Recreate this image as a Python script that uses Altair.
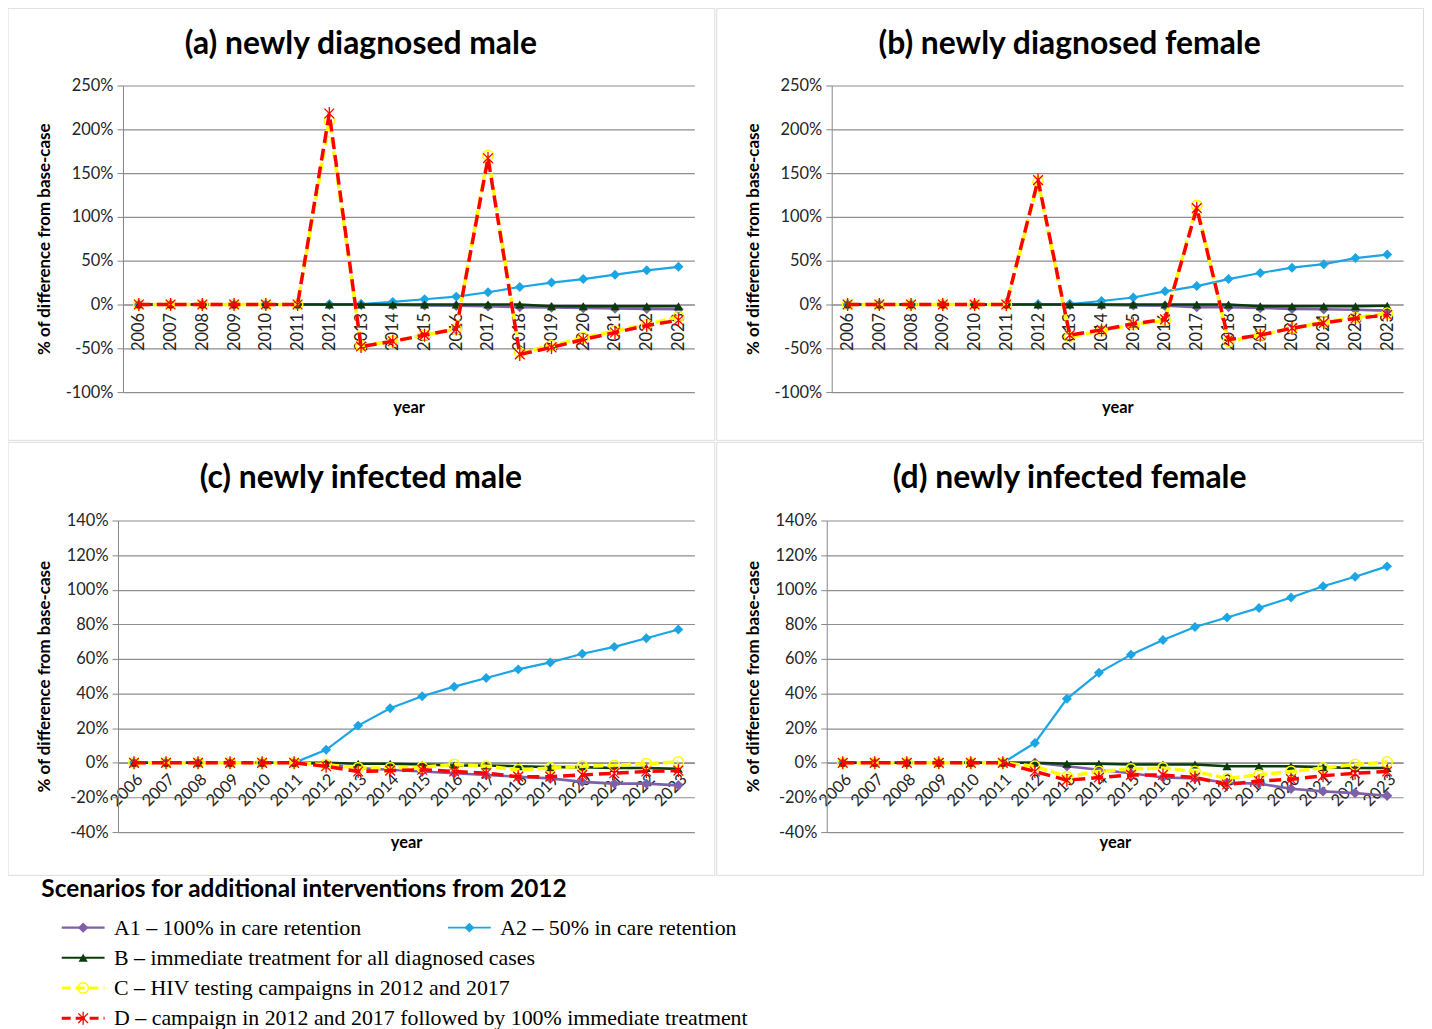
import altair as alt
import pandas as pd

# ---------------- data ----------------
years = list(range(2006, 2024))

scenario_keys = ["A1", "A2", "B", "C", "D"]
scenario_labels = [
    "A1 – 100% in care retention",
    "A2 – 50% in care retention",
    "B – immediate treatment for all diagnosed cases",
    "C – HIV testing campaigns in 2012 and 2017",
    "D – campaign in 2012 and 2017 followed by 100% immediate treatment",
]
legend_title = "Scenarios for additional interventions from 2012"

panel_titles = [
    "(a) newly diagnosed male",
    "(b) newly diagnosed female",
    "(c) newly infected male",
    "(d) newly infected female",
]

# (a) newly diagnosed male (% difference from base-case)
a_A1 = [0, 0, 0, 0, 0, 0, 0, 0, -0.5, -1, -1.5, -2, -3, -3.5, -4, -4.5, -5, -5.5]
a_A2 = [0, 0, 0, 0, 0, 0, 0, 0.5, 3, 6, 9, 14, 20, 25, 29, 34, 39, 43]
a_B = [0, 0, 0, 0, 0, 0, 0, 0, 0, 0, 0, 0, 0, -2, -2, -2, -2, -2]
a_C = [0, 0, 0, 0, 0, 0, 210, -47, -42, -35, -28, 170, -55, -47, -38, -30, -23, -14]
a_D = [0, 0, 0, 0, 0, 0, 218, -48, -42, -35, -28, 167, -57, -49, -40, -32, -24, -18]

# (b) newly diagnosed female
b_A1 = [0, 0, 0, 0, 0, 0, 0, 0, -0.5, -1, -1.5, -3, -3, -4, -5, -5.5, -6, -7]
b_A2 = [0, 0, 0, 0, 0, 0, 0, 0.5, 4, 8, 15, 21, 29, 36, 42, 46, 53, 57]
b_B = [0, 0, 0, 0, 0, 0, 0, 0, 0, 0, 0, 0, 0, -2, -2, -2, -2, -1.5]
b_C = [0, 0, 0, 0, 0, 0, 140, -37, -30, -23, -18, 113, -42, -35, -27, -20, -15, -10]
b_D = [0, 0, 0, 0, 0, 0, 142, -35, -29, -22, -17, 110, -40, -35, -27, -21, -16, -12]

# (c) newly infected male
c_A1 = [0, 0, 0, 0, 0, 0, -1, -3, -4, -5, -6, -7, -8, -9, -11, -12, -12, -13]
c_A2 = [0, 0, 0, 0, 0, 0, 7.5, 21.5, 31.5, 38.5, 44, 49, 54, 58, 63, 67, 72, 77]
c_B = [0, 0, 0, 0, 0, 0, 0, -0.5, -0.5, -1, -1.5, -1.5, -2, -2.5, -2.5, -3, -3, -3.5]
c_C = [0, 0, 0, 0, 0, 0, -1, -3, -3, -2.5, -1, -2, -4, -3, -2, -1.5, -0.5, 0.5]
c_D = [0, 0, 0, 0, 0, 0, -2, -5, -4.5, -4, -5, -6, -8, -8, -7, -6, -5, -4.5]

# (d) newly infected female
d_A1 = [0, 0, 0, 0, 0, 0, 0, -2, -4, -6, -8.5, -9, -11.5, -12, -15, -16.5, -17.5, -19]
d_A2 = [0, 0, 0, 0, 0, 0, 11.5, 37, 52, 62.5, 71, 78.5, 84, 89.5, 95.5, 102, 107.5, 113.5]
d_B = [0, 0, 0, 0, 0, 0, 0, -0.5, -0.5, -1, -1, -1, -2, -2, -2, -2.5, -3, -3]
d_C = [0, 0, 0, 0, 0, 0, -2, -8, -5, -3.5, -3, -5, -9, -7, -5, -3, -1, 0.5]
d_D = [0, 0, 0, 0, 0, 0, -5, -10, -8.5, -7, -7, -8.5, -12.5, -10.5, -9.5, -7.5, -6, -5]

# ---------------- layout & style ----------------
BOX_W = 710
TOP_H, BOT_H, LEG_H = 434, 435, 152
TOP_PLOT = {"x": (116, 690), "y": (78, 386)}
BOT_PLOT = {"x": (111, 690), "y": (79, 392)}
TITLE_POS = (355, 36)
YTITLE_X = 37

GRID = "#8E8E8E"
AXIS_COL = "#868686"
LABEL_COL = "#262626"
FONT = "Lato"
SERIF = "Liberation Serif"
ASTERISK = "M-0.75,-0.75L0.75,0.75M-0.75,0.75L0.75,-0.75M0,-1L0,1"

styles = {
    "A1": dict(color="#7E60A8", lw=2.6, dash=None, shape="diamond", size=110, filled=True, sw=1),
    "A2": dict(color="#1AA5E4", lw=2.2, dash=None, shape="diamond", size=100, filled=True, sw=1),
    "B": dict(color="#0B3B0B", lw=2.6, dash=None, shape="triangle-up", size=85, filled=True, sw=1),
    "C": dict(color="#FFFF00", lw=3.5, dash=[10, 4], shape="circle", size=110, filled=False, sw=1.5),
    "D": dict(color="#FF0000", lw=3.5, dash=[12, 6], shape=ASTERISK, size=170, filled=False, sw=1.3),
}


def line_mark(st):
    kw = dict(color=st["color"], strokeWidth=st["lw"])
    if st["dash"]:
        kw["strokeDash"] = st["dash"]
    return kw


def point_mark(st):
    return dict(shape=st["shape"], size=st["size"], filled=st["filled"],
                color=st["color"], strokeWidth=st["sw"], opacity=1)


def make_panel(title, series, ydom, ystep, box_h, plot, year_y, label_angle):
    px, py = plot["x"], plot["y"]
    rows = []
    for k in scenario_keys:
        for yr, v in zip(years, series[k]):
            rows.append({"year": yr, "value": v, "scenario": k})
    df = pd.DataFrame(rows)
    ymin, ymax = ydom
    zero_px = py[1] - (0 - ymin) / (ymax - ymin) * (py[1] - py[0])

    x_enc = alt.X(
        "year:O",
        scale=alt.Scale(type="point", domain=years, range=[px[0], px[1]], padding=0.5),
        axis=alt.Axis(
            orient="bottom", offset=zero_px - box_h, labelAngle=label_angle,
            labelFont=FONT, labelFontSize=16.5, labelColor=LABEL_COL, labelPadding=3,
            labelOverlap=False, domainColor=AXIS_COL, tickColor=AXIS_COL, tickSize=5,
            grid=False, title="year", titleFont=FONT, titleFontSize=16.5,
            titleFontWeight="bold", titleColor="black",
            titleX=(px[0] + px[1]) / 2, titleY=year_y - zero_px,
            titleAlign="center", titleBaseline="middle",
        ),
    )
    y_enc = alt.Y(
        "value:Q",
        scale=alt.Scale(domain=[ymin, ymax], range=[py[1], py[0]], nice=False, zero=False),
        axis=alt.Axis(
            orient="left", offset=-px[0], values=list(range(ymin, ymax + 1, ystep)),
            labelExpr="datum.value + '%'", labelFont=FONT, labelFontSize=16.5,
            labelColor=LABEL_COL, labelPadding=4, grid=True, gridColor=GRID,
            gridWidth=1.2, domainColor=AXIS_COL, tickColor=AXIS_COL, tickSize=6,
            title="% of difference from base-case", titleFont=FONT,
            titleFontSize=17, titleFontWeight="bold", titleColor="black",
            titleX=YTITLE_X - px[0], titleY=(py[0] + py[1]) / 2, titleAngle=270,
            titleAlign="center", titleBaseline="middle",
        ),
    )

    layers = []
    for k in scenario_keys:
        st = styles[k]
        base = alt.Chart(df).transform_filter(alt.datum.scenario == k)
        layers.append(base.mark_line(**line_mark(st)).encode(x=x_enc, y=y_enc))
        layers.append(base.mark_point(**point_mark(st)).encode(x=x_enc, y=y_enc))

    title_layer = alt.Chart(pd.DataFrame({"t": [title]})).mark_text(
        font=FONT, fontSize=32, fontWeight="bold", color="black",
        align="center", baseline="middle",
    ).encode(text="t:N", x=alt.value(TITLE_POS[0]), y=alt.value(TITLE_POS[1]))

    return alt.layer(*layers, title_layer).properties(width=BOX_W, height=box_h)


pa = make_panel(panel_titles[0], dict(zip(scenario_keys, [a_A1, a_A2, a_B, a_C, a_D])),
                (-100, 250), 50, TOP_H, TOP_PLOT, 402, 270)
pb = make_panel(panel_titles[1], dict(zip(scenario_keys, [b_A1, b_A2, b_B, b_C, b_D])),
                (-100, 250), 50, TOP_H, TOP_PLOT, 402, 270)
pc = make_panel(panel_titles[2], dict(zip(scenario_keys, [c_A1, c_A2, c_B, c_C, c_D])),
                (-40, 140), 20, BOT_H, BOT_PLOT, 403, 315)
pd_ = make_panel(panel_titles[3], dict(zip(scenario_keys, [d_A1, d_A2, d_B, d_C, d_D])),
                 (-40, 140), 20, BOT_H, BOT_PLOT, 403, 315)

# ---------------- custom legend ----------------
legend_slots = {"A1": (0, 0), "A2": (0, 1), "B": (1, 0), "C": (2, 0), "D": (3, 0)}
leg_df = pd.DataFrame({
    "key": scenario_keys,
    "label": scenario_labels,
    "row": [legend_slots[k][0] for k in scenario_keys],
    "col": [legend_slots[k][1] for k in scenario_keys],
})
lx = alt.X("col:Q", scale=alt.Scale(domain=[0, 1], range=[76, 464], nice=False, zero=False), axis=None)
ly = alt.Y("row:Q", scale=alt.Scale(domain=[0, 3], range=[51, 142], nice=False, zero=False), axis=None)

leg_layers = []
for k in scenario_keys:
    st = styles[k]
    base = alt.Chart(leg_df).transform_filter(alt.datum.key == k)
    sym = dict(shape="M-1,0L1,0", size=43 * 43, filled=False, color=st["color"],
               strokeWidth=st["lw"] - 0.5, opacity=1)
    if st["dash"]:
        sym["strokeDash"] = [9, 5]
    leg_layers.append(base.mark_point(**sym).encode(x=lx, y=ly))
    leg_layers.append(base.mark_point(**point_mark(st)).encode(x=lx, y=ly))
    leg_layers.append(base.mark_text(align="left", baseline="middle", dx=31, font=SERIF,
                                     fontSize=22, color="black").encode(x=lx, y=ly, text="label:N"))

leg_title = alt.Chart(pd.DataFrame({"t": [legend_title]})).mark_text(
    font=FONT, fontSize=24.5, fontWeight="bold", color="black", align="left", baseline="middle",
).encode(text="t:N", x=alt.value(34), y=alt.value(13))

legend = alt.layer(*leg_layers, leg_title).properties(
    width=2 * BOX_W, height=LEG_H, view=alt.ViewBackground(stroke="transparent")
)

chart = alt.vconcat(
    alt.hconcat(pa, pb, spacing=0),
    alt.hconcat(pc, pd_, spacing=0),
    legend,
    spacing=0,
).properties(
    padding={"top": -3.5, "left": -1.5, "right": 0, "bottom": 0}
).configure_view(stroke="#7A7A7A", strokeWidth=1.2).configure(background="white")

chart.save("out.html", embed_options={"renderer": "svg", "actions": False})
